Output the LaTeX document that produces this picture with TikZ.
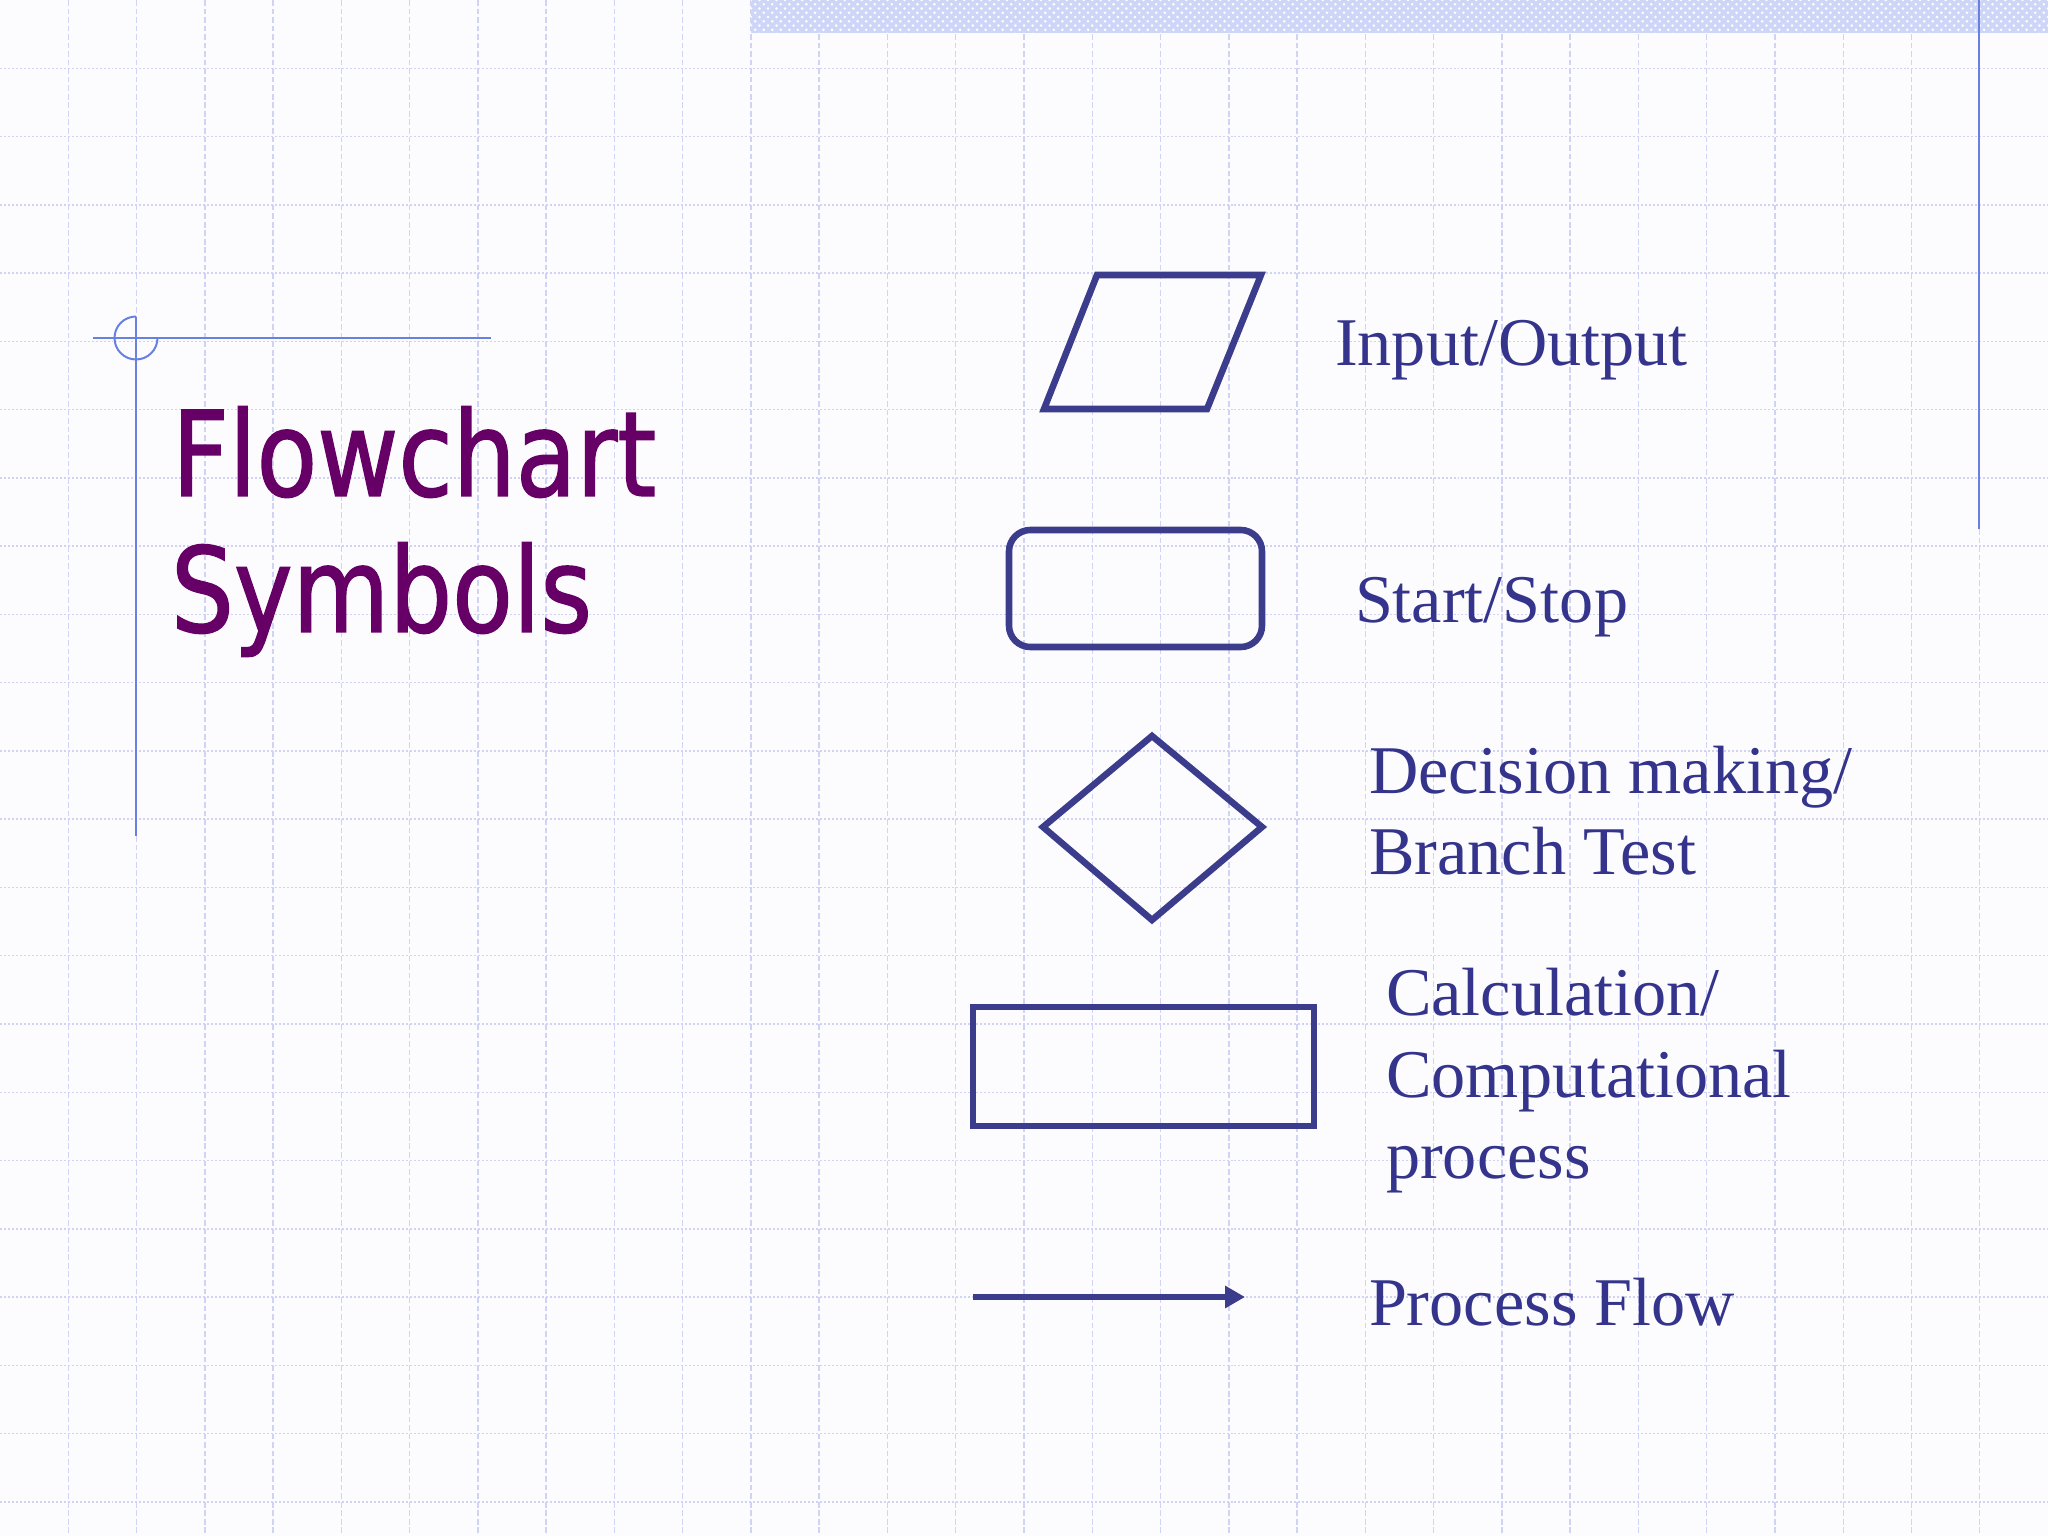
\documentclass[tikz,border=0pt]{standalone}
\usepackage{fontspec}
\setmainfont{Liberation Serif}
\newfontfamily\titlefont[FakeStretch=0.84,FakeBold=1.2]{DejaVu Sans}
\usetikzlibrary{arrows.meta,patterns}
\definecolor{bgc}{RGB}{252,252,254}
\definecolor{gridc}{RGB}{208,210,246}
\definecolor{barc}{RGB}{206,214,248}
\definecolor{decoc}{RGB}{104,128,224}
\definecolor{shapec}{RGB}{60,60,140}
\definecolor{textc}{RGB}{52,52,140}
\definecolor{titlec}{RGB}{102,0,102}
\tikzset{
  vgrid/.style={gridc, line width=0.5pt, dash pattern=on 2pt off 1pt},
  hgrid/.style={gridc, line width=0.5pt, dash pattern=on 0.7pt off 0.7pt},
  deco/.style={decoc, line width=0.7pt},
  symb/.style={shapec, line width=2.3pt, line join=miter},
  lbl/.style={textc, font=\fontsize{24}{28.8}\selectfont, anchor=base west, inner sep=0pt, outer sep=0pt},
  ttl/.style={titlec, font=\titlefont\fontsize{41.5}{48}\selectfont, anchor=base west, inner sep=0pt, outer sep=0pt},
}
\begin{document}
\begin{tikzpicture}[x=0.3515625pt,y=-0.3515625pt]
\useasboundingbox (0,0) rectangle (2048,1536);
\fill[bgc] (0,0) rectangle (2048,1536);
% grid
\foreach \i in {1,...,29} \draw[vgrid] ({\i*68.2667},0) -- ({\i*68.2667},1536);
\foreach \j in {1,...,22} \draw[hgrid] (0,{\j*68.2667}) -- (2048,{\j*68.2667});
% top bar
\fill[barc] (751,0) rectangle (2048,33);
\fill[pattern=crosshatch dots, pattern color=white] (751,0) rectangle (2048,33);
% right vertical line
\draw[deco] (1979,0) -- (1979,529);
% title decoration
\draw[deco] (93,338) -- (491,338);
\draw[deco] (136,317) -- (136,836);
\draw[deco] (136,316.5) arc[start angle=270, end angle=0, radius=21.5];
% title
\node[ttl] (t1) at (172,496) {Flowchart};
\node[ttl] (t2) at (171,632) {Symbols};
% symbols
\draw[symb] (1097,275) -- (1261,275) -- (1207,409) -- (1044,409) -- cycle;
\draw[symb, rounded corners=7.5pt] (1009,530) rectangle (1262,647);
\draw[symb] (1152,736) -- (1262,827) -- (1152,920) -- (1043,827) -- cycle;
\draw[symb] (973,1007) rectangle (1314,1126);
\coordinate (a1) at (973,1297);
\coordinate (a2) at (1245,1297);
\draw[shapec, line width=2pt, -{Triangle[length=7pt,width=7.5pt]}] (a1) -- (a2);
% labels
\node[lbl] (l1) at (1335,366) {Input/Output};
\node[lbl] (l2) at (1355,623) {Start/Stop};
\node[lbl] (l3) at (1369,793) {Decision making/};
\node[lbl] (l4) at (1369,874) {Branch Test};
\node[lbl] (l5) at (1386,1015) {Calculation/};
\node[lbl] (l6) at (1386,1097) {Computational};
\node[lbl] (l7) at (1386,1178) {process};
\node[lbl] (l8) at (1369,1325) {Process Flow};
\end{tikzpicture}
\end{document}
